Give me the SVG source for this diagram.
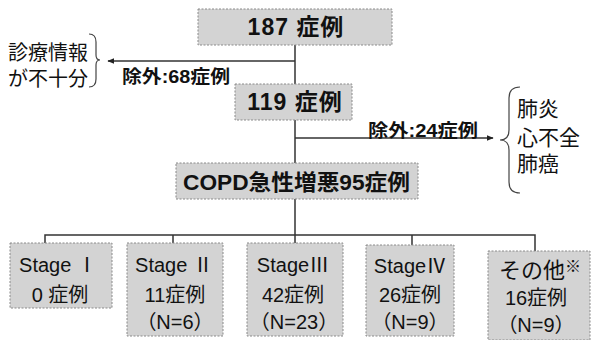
<svg xmlns="http://www.w3.org/2000/svg" width="592" height="340" viewBox="0 0 592 340">
<defs>
<style>
.box{fill:#d3d3d3;stroke:#8a8a8a;stroke-width:1;stroke-dasharray:2 1.5}
.ln{fill:none;stroke:#333;stroke-width:1.5}
.br{fill:none;stroke:#444;stroke-width:1.2}
text{font-family:"Liberation Sans","Noto Sans CJK JP",sans-serif;fill:#111}
.b{font-weight:bold}
.t{font-size:20px}
.m{text-anchor:middle}
</style>
<marker id="ah" viewBox="0 0 10 10" refX="9" refY="5" markerWidth="7" markerHeight="7" orient="auto" markerUnits="userSpaceOnUse">
<path d="M0,1 L10,5 L0,9 Z" fill="#222"/>
</marker>
</defs>
<rect width="592" height="340" fill="#fff"/>
<g id="connectors">
<path class="ln" d="M295,45 V243"/>
<path class="ln" d="M295,61 H108" marker-end="url(#ah)"/>
<path class="ln" d="M295,138 H493" marker-end="url(#ah)"/>
<path class="ln" d="M45,243 V235 H535 V251 M173,235 V243 M412,235 V245"/>
<path class="br" d="M89,34 Q96,34 96,42 V55 Q96,60 100,60 Q96,60 96,65 V79 Q96,87 89,87"/>
<path class="br" d="M520,87 Q509,87 509,98 V130 Q509,140 500,140 Q509,140 509,150 V182 Q509,193 520,193"/>
</g>
<g id="n187">
<rect class="box" x="198" y="9" width="194" height="36"/>
<text class="b m" x="296" y="35" font-size="23" letter-spacing="1">187 症例</text>
</g>
<g id="excl68">
<text class="b" x="122" y="83" font-size="18" textLength="108" lengthAdjust="spacingAndGlyphs">除外:68症例</text>
</g>
<g id="info">
<text class="t" x="8" y="60">診療情報</text>
<text class="t" x="8" y="86">が不十分</text>
</g>
<g id="n119">
<rect class="box" x="235" y="84" width="117" height="36"/>
<text class="b m" x="295" y="110" font-size="23" letter-spacing="1">119 症例</text>
</g>
<g id="excl24">
<text class="b" x="368" y="137" font-size="18" textLength="110" lengthAdjust="spacingAndGlyphs">除外:24症例</text>
</g>
<g id="reasons">
<text x="517" y="116" font-size="21">肺炎</text>
<text x="517" y="145" font-size="21">心不全</text>
<text x="517" y="171" font-size="21">肺癌</text>
</g>
<g id="copd">
<rect class="box" x="176" y="163" width="242" height="36"/>
<text class="b" x="183" y="190" font-size="22" textLength="227" lengthAdjust="spacingAndGlyphs">COPD急性増悪95症例</text>
</g>
<g id="stage1">
<rect class="box" x="10" y="243" width="102" height="65"/>
<text class="t m" x="58" y="272">Stage Ⅰ</text>
<text class="t m" x="60" y="302" font-size="21">0 症例</text>
</g>
<g id="stage2">
<rect class="box" x="127" y="243" width="96" height="93"/>
<text class="t m" x="174" y="272">Stage Ⅱ</text>
<text class="t m" x="175" y="302">11症例</text>
<text class="t m" x="175" y="329">（N=6）</text>
</g>
<g id="stage3">
<rect class="box" x="247" y="243" width="96" height="93"/>
<text class="t m" x="293" y="272">StageⅢ</text>
<text class="t m" x="293" y="302">42症例</text>
<text class="t m" x="294" y="329">（N=23）</text>
</g>
<g id="stage4">
<rect class="box" x="366" y="245" width="88" height="91"/>
<text class="t m" x="410" y="273">StageⅣ</text>
<text class="t m" x="410" y="302">26症例</text>
<text class="t m" x="410" y="329">（N=9）</text>
</g>
<g id="other">
<rect class="box" x="488" y="251" width="102" height="89"/>
<text x="499" y="278" font-size="22">その他<tspan font-size="16" dy="-6">※</tspan></text>
<text class="t m" x="536" y="305">16症例</text>
<text class="t m" x="536" y="332">（N=9）</text>
</g>
</svg>
